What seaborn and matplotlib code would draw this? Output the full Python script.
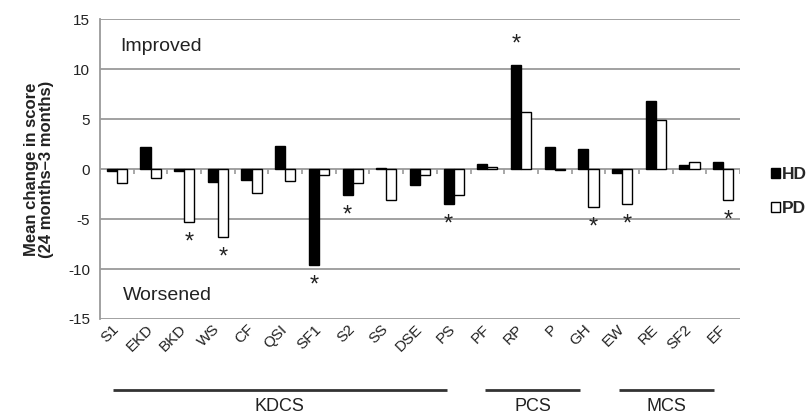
import numpy as np
import pandas as pd
import matplotlib
matplotlib.use("Agg")
import matplotlib.pyplot as plt
import matplotlib.transforms as mtransforms
from matplotlib.patches import Patch
import seaborn as sns

# ---------------- data ----------------
categories = ["S1", "EKD", "BKD", "WS", "CF", "QSI", "SF1", "S2", "SS", "DSE", "PS",
              "PF", "RP", "P", "GH", "EW", "RE", "SF2", "EF"]
hd_values = [-0.2, 2.2, -0.15, -1.3, -1.1, 2.3, -9.6, -2.6, 0.1, -1.6, -3.5,
             0.5, 10.4, 2.2, 2.0, -0.35, 6.8, 0.45, 0.7]
pd_values = [-1.4, -0.85, -5.3, -6.8, -2.4, -1.2, -0.6, -1.4, -3.1, -0.6, -2.6,
             0.2, 5.7, -0.1, -3.8, -3.5, 4.9, 0.75, -3.1]
series = ["HD", "PD"]
significant = [("BKD", "PD"), ("WS", "PD"), ("SF1", "HD"), ("S2", "HD"), ("PS", "HD"),
               ("RP", "HD"), ("GH", "PD"), ("EW", "PD"), ("EF", "PD")]
group_names = ["KDCS", "PCS", "MCS"]
y_ticks = [-15, -10, -5, 0, 5, 10, 15]

df = pd.DataFrame({
    "category": categories * 2,
    "group": ["HD"] * len(categories) + ["PD"] * len(categories),
    "value": hd_values + pd_values,
})

# ---------------- style ----------------
sns.set_theme(style="white")
plt.rcParams["font.family"] = ["Liberation Sans", "DejaVu Sans"]
GRID = "#9a9a9a"
TXT = "#222222"

fig = plt.figure(figsize=(8.11, 4.18), dpi=100)
ax = fig.add_axes([100 / 811, 1 - 319 / 418, 640 / 811, 300 / 418])

sns.barplot(data=df, x="category", y="value", hue="group", hue_order=series,
            order=categories, palette={"HD": "black", "PD": "white"},
            edgecolor="black", linewidth=1.0, width=0.6, ax=ax, legend=False,
            errorbar=None, zorder=3)

ax.set_xlim(-0.5, len(categories) - 0.5)
ax.set_ylim(-15, 15)
ax.set_yticks(y_ticks)
ax.set_yticklabels([str(t) for t in y_ticks], fontsize=11, color=TXT)
for t in y_ticks:
    ax.axhline(t, color=GRID, lw=1.3, zorder=1)

for s in ["top", "right", "bottom"]:
    ax.spines[s].set_visible(False)
ax.spines["left"].set_color(GRID)
ax.spines["left"].set_linewidth(1.3)
ax.tick_params(axis="y", direction="out", length=4, width=1.2, color=GRID, pad=3)
ax.tick_params(axis="x", length=0, pad=6)

ax.set_xticks(range(len(categories)))
ax.set_xticklabels(categories, rotation=45, ha="right", va="center",
                   rotation_mode="anchor", fontsize=11, color=TXT)
ax.set_xlabel("")

# small category-boundary ticks on the zero line
bounds = np.arange(-0.5, len(categories), 1.0)
ax.vlines(bounds, 0, -0.45, color=GRID, lw=1.2, zorder=2)

ax.set_ylabel("Mean change in score\n(24 months\u20133 months)", fontsize=12,
              fontweight="bold", color=TXT, linespacing=1.0)
ax.yaxis.set_label_coords(-0.072, 0.5)

# significance stars
hd_map = dict(zip(categories, hd_values))
pd_map = dict(zip(categories, pd_values))
for cat, grp in significant:
    i = categories.index(cat)
    off = -0.15 if grp == "HD" else 0.15
    v = hd_map[cat] if grp == "HD" else pd_map[cat]
    y = v + 2.0 if v > 0 else v - 2.1
    ax.text(i + off, y, "*", ha="center", va="center", fontsize=17, color=TXT)

ax.text(0.031, 0.91, "Improved", transform=ax.transAxes, fontsize=14,
        ha="left", va="center", color=TXT)
ax.text(0.036, 0.08, "Worsened", transform=ax.transAxes, fontsize=14,
        ha="left", va="center", color=TXT)

# group bars below the axis
trans = mtransforms.blended_transform_factory(ax.transData, ax.transAxes)
spans = [(-0.12, 9.8), (10.93, 13.75), (14.9, 17.72)]
for name, (x0, x1) in zip(group_names, spans):
    ax.plot([x0, x1], [-0.237, -0.237], transform=trans, color="#333333",
            lw=2.0, clip_on=False, solid_capstyle="butt")
    ax.text((x0 + x1) / 2, -0.293, name, transform=trans, ha="center",
            va="center", fontsize=13, color=TXT)

handles = [Patch(facecolor="black", edgecolor="black", lw=1.0),
           Patch(facecolor="white", edgecolor="black", lw=1.0)]
fig.legend(handles, series, loc="center left", bbox_to_anchor=(0.94, 0.542),
           frameon=False, handlelength=0.5, handleheight=0.5,
           handletextpad=0.15, labelspacing=1.1, borderpad=0,
           prop={"weight": "bold", "size": 12.5})

fig.savefig("out.png", dpi=100)
